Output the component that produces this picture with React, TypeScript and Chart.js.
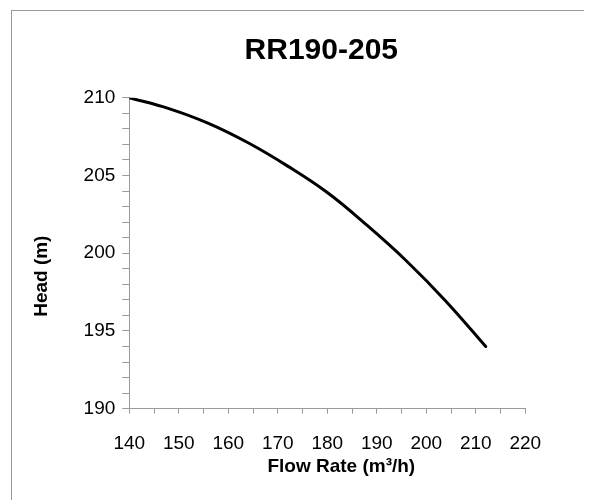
import React, { useEffect, useRef } from 'react';
import { Chart, registerables } from 'chart.js';

Chart.register(...registerables);

const flowRates = [140, 148, 156, 164, 172, 180, 188, 196, 204, 212];
const heads = [210.0, 209.3, 208.35, 207.1, 205.6, 203.9, 201.8, 199.5, 196.9, 194.0];
const chartTitle = 'RR190-205';
const xAxisTitle = 'Flow Rate (m³/h)';
const yAxisTitle = 'Head (m)';
const xRange = [140, 220];
const yRange = [190, 210];
const xMinorStep = 5;
const xLabelStep = 10;
const yMinorStep = 1;
const yLabelStep = 5;

const FONT = '"Liberation Sans", Arial, sans-serif';
const AXIS_GRAY = '#9a9a9a';

const titlesPlugin = {
  id: 'customTitles',
  afterDraw(chart: any) {
    const { ctx, chartArea } = chart;
    const cx = (chartArea.left + chartArea.right) / 2;
    const cy = (chartArea.top + chartArea.bottom) / 2;
    ctx.save();
    ctx.fillStyle = '#000';
    ctx.textAlign = 'center';
    ctx.textBaseline = 'middle';
    ctx.font = `bold 30px ${FONT}`;
    ctx.fillText(chartTitle, cx - 6, 40);
    ctx.font = `bold 19px ${FONT}`;
    ctx.fillText(xAxisTitle, cx + 14, 456);
    ctx.translate(30, cy + 23);
    ctx.rotate(-Math.PI / 2);
    ctx.fillText(yAxisTitle, 0, 0);
    ctx.restore();
  },
};

export default function App() {
  const canvasRef = useRef<HTMLCanvasElement | null>(null);

  useEffect(() => {
    if (!canvasRef.current) return;
    const chart = new Chart(canvasRef.current, {
      type: 'line',
      data: {
        datasets: [
          {
            data: flowRates.map((q, i) => ({ x: q, y: heads[i] })),
            borderColor: '#000',
            borderWidth: 3,
            pointRadius: 0,
            tension: 0.4,
            borderCapStyle: 'round',
            fill: false,
          },
        ],
      },
      options: {
        responsive: false,
        animation: false,
        layout: { padding: { top: 86.7, right: 62.7, bottom: 0, left: 0 } },
        plugins: {
          legend: { display: false },
          title: { display: false },
          tooltip: { enabled: false },
        },
        scales: {
          x: {
            type: 'linear',
            min: xRange[0],
            max: xRange[1],
            afterFit: (scale: any) => {
              scale.height = 90.3;
            },
            grid: {
              display: true,
              drawOnChartArea: false,
              drawTicks: true,
              tickLength: 5,
              color: AXIS_GRAY,
            },
            border: { display: true, color: AXIS_GRAY, width: 1 },
            ticks: {
              stepSize: xMinorStep,
              autoSkip: false,
              maxRotation: 0,
              padding: 19,
              color: '#000',
              font: { family: FONT, size: 19 },
              callback: (v: any) => (Number(v) % xLabelStep === 0 ? String(v) : ''),
            },
          },
          y: {
            type: 'linear',
            min: yRange[0],
            max: yRange[1],
            afterFit: (scale: any) => {
              scale.width = 117.3;
            },
            grid: {
              display: true,
              drawOnChartArea: false,
              drawTicks: true,
              tickLength: 7,
              color: AXIS_GRAY,
            },
            border: { display: true, color: AXIS_GRAY, width: 1 },
            ticks: {
              stepSize: yMinorStep,
              autoSkip: false,
              padding: 7,
              color: '#000',
              font: { family: FONT, size: 19 },
              callback: (v: any) => (Number(v) % yLabelStep === 0 ? String(v) : ''),
            },
          },
        },
      },
      plugins: [titlesPlugin],
    } as any);
    return () => chart.destroy();
  }, []);

  return (
    <div
      style={{
        marginLeft: 3,
        marginTop: 2,
        width: 576,
        height: 489,
        borderTop: '1px solid #999',
        borderLeft: '1px solid #999',
        borderRight: '1px solid #999',
        background: '#fff',
      }}
    >
      <canvas ref={canvasRef} width={576} height={488} style={{ display: 'block', width: 576, height: 488 }} />
    </div>
  );
}
